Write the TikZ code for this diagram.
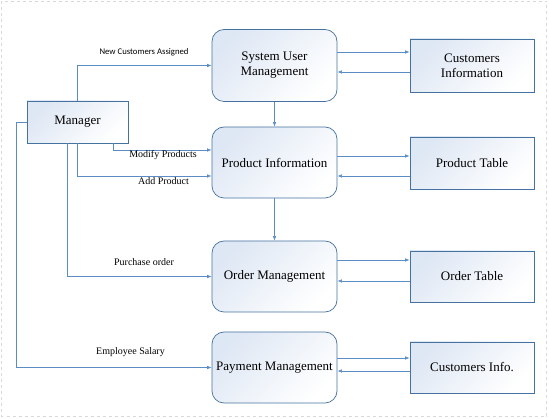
\documentclass[tikz,border=0pt]{standalone}
\usepackage{fontspec}
\setmainfont{Liberation Serif}
\newfontfamily\calibri{Carlito}
\usetikzlibrary{arrows.meta}
\definecolor{flowblue}{RGB}{91,141,196}
\definecolor{edgeblue}{RGB}{70,114,160}
\definecolor{tintblue}{RGB}{222,231,244}
\begin{document}
\begin{tikzpicture}[x=1pt,y=-1pt,
	box/.style={draw=edgeblue,line width=0.7pt,top color=tintblue,middle color=white,bottom color=white,shading angle=45,align=center,font=\rmfamily\fontsize{13}{15}\selectfont,inner sep=1pt},
	process/.style={box,rounded corners=12pt,minimum width=125pt,minimum height=71pt},
	table/.style={box,minimum width=124pt,minimum height=52pt},
	flow/.style={draw=flowblue,line width=0.6pt,-{Latex[length=4.5pt,width=3.5pt]}},
	lbl/.style={font=\rmfamily\fontsize{10}{11}\selectfont,inner sep=0pt}]
\useasboundingbox (0,0) rectangle (549,419);
\draw[black!15,dashed] (1.5,1.5) rectangle (546.5,416.5);
\node[box,minimum width=101pt,minimum height=42pt] (mgr) at (77.5,122) {Manager};
\node[process,minimum height=72pt] (sum) at (274.5,65.5) {System User\\Management};
\node[process] (pinfo) at (274.5,162.5) {Product Information};
\node[process] (order) at (274.5,276.5) {Order Management};
\node[process] (pay) at (274.5,367.5) {Payment Management};
\node[table,minimum height=53pt] (cust) at (472,65.5) {Customers\\Information};
\node[table] (ptab) at (472,163) {Product Table};
\node[table,minimum height=51pt] (otab) at (472,276.5) {Order Table};
\node[table,minimum height=51pt] (cinfo) at (472,367.5) {Customers Info.};
\draw[flow] (sum.south) -- (pinfo.north);
\draw[flow] (pinfo.south) -- (order.north);
\draw[flow] (sum.east |- 0,52) -- (cust.west |- 0,52);
\draw[flow] (cust.west |- 0,72) -- (sum.east |- 0,72);
\draw[flow] (pinfo.east |- 0,156) -- (ptab.west |- 0,156);
\draw[flow] (ptab.west |- 0,176) -- (pinfo.east |- 0,176);
\draw[flow] (order.east |- 0,260) -- (otab.west |- 0,260);
\draw[flow] (otab.west |- 0,281) -- (order.east |- 0,281);
\draw[flow] (pay.east |- 0,358) -- (cinfo.west |- 0,358);
\draw[flow] (cinfo.west |- 0,371) -- (pay.east |- 0,371);
\draw[flow] (mgr.north) |- (sum.west);
\draw[flow] (mgr.south -| 113,0) |- (pinfo.west |- 0,150);
\draw[flow] (mgr.south) |- (pinfo.west |- 0,176);
\draw[flow] (mgr.south -| 67,0) |- (order.west);
\draw[flow] (mgr.west) -- ++(-10,0) |- (pay.west);
\node[lbl,font=\calibri\fontsize{8.7}{10}\selectfont] (newcust) at (144,52) {New Customers Assigned};
\node[lbl] (modify) at (163,155.5) {Modify Products};
\node[lbl] (addprod) at (163.5,181.5) {Add Product};
\node[lbl] (purchase) at (144,262) {Purchase order};
\node[lbl] (salary) at (130.5,352) {Employee Salary};
\end{tikzpicture}
\end{document}
